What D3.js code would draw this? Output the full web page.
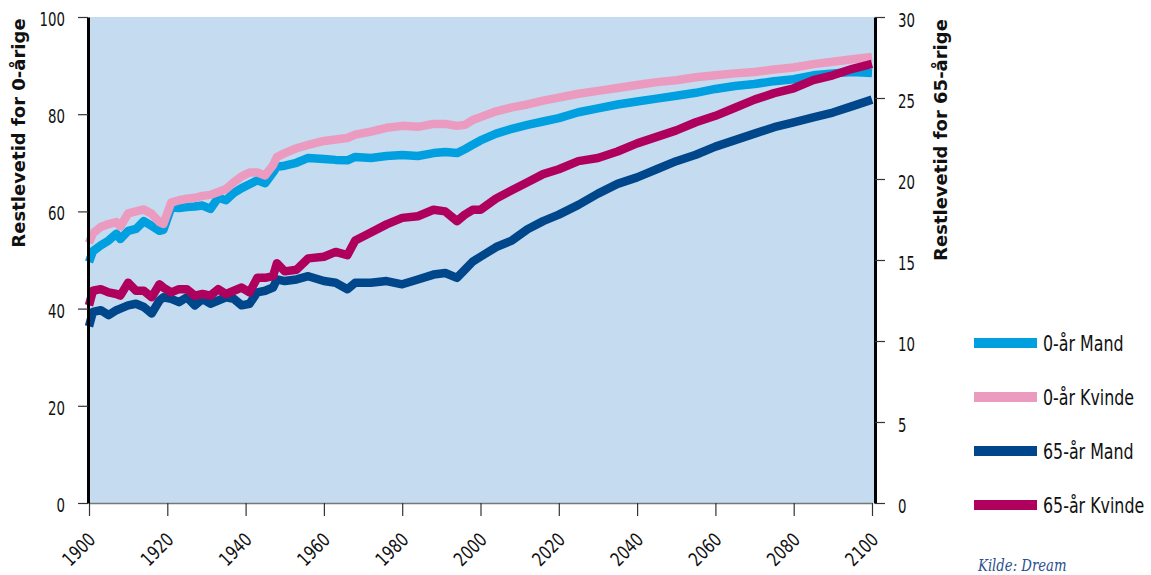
<html>
<script src="https://cdn.jsdelivr.net/npm/d3@7"></script>
<style>
body { margin: 0; background: #fff; }
.axis text { font-family: "DejaVu Sans Condensed", sans-serif; font-size: 19px; fill: #111; }
.axis .tick line { stroke: #333; stroke-width: 1.2; }
.title { font-family: "DejaVu Sans", sans-serif; font-weight: bold; font-size: 18px; fill: #111; }
.legend text { font-family: "DejaVu Sans Condensed", sans-serif; font-size: 21px; fill: #111; }
</style>
<body>
<svg width="1151" height="575" id="chart"></svg>
<script>
// years (historic years are dense, projection sparser)
var years = [1900,1901,1903,1905,1907,1908,1910,1912,1914,1916,1918,1919,
  1921,1923,1925,1927,1929,1931,1933,1935,1937,1939,1941,1943,1945,1947,
  1948,1950,1953,1956,1960,1963,1966,1968,
  1972,1976,1980,1984,1988,1991,1994,1996,1998,
  2000,2004,2008,2012,2016,2020,
  2025,2030,2035,2040,2045,2050,2055,2060,2065,2070,2075,2080,2085,2090,2095,2100];

// left axis series (0-aarige)
var mand0 = [49.6,51.8,53.0,54.0,55.4,54.3,56.0,56.4,58.0,57.0,56.0,56.2,
  60.8,60.7,60.9,61.0,61.2,60.5,62.8,62.3,63.8,64.8,65.6,66.4,65.8,68.0,
  69.2,69.4,70.0,71.0,70.8,70.6,70.5,71.2,
  71.0,71.4,71.6,71.4,72.0,72.2,72.0,72.8,73.7,
  74.6,76.0,77.0,77.8,78.5,79.2,
  80.4,81.2,82.0,82.6,83.2,83.8,84.4,85.2,85.8,86.2,86.8,87.2,88.0,88.4,88.7,88.5];
var kvinde0 = [53.5,55.5,56.8,57.4,57.8,56.9,59.6,60.0,60.4,59.5,57.8,57.4,
  61.8,62.3,62.6,62.8,63.2,63.4,64.0,64.6,66.0,67.2,68.0,68.0,67.4,69.5,
  71.2,72.0,73.0,73.7,74.5,74.8,75.1,75.8,
  76.4,77.2,77.6,77.4,78.0,78.0,77.6,77.8,78.8,
  79.4,80.6,81.4,82.0,82.8,83.4,
  84.2,84.8,85.4,86.0,86.6,87.0,87.6,88.0,88.4,88.7,89.2,89.6,90.3,90.8,91.3,91.8];

// right axis series (65-aarige)
var mand65 = [10.9,11.8,11.9,11.6,11.9,12.0,12.2,12.3,12.1,11.7,12.5,12.7,
  12.6,12.4,12.7,12.2,12.6,12.3,12.5,12.7,12.6,12.2,12.3,13.0,13.1,13.3,
  13.8,13.7,13.8,14.0,13.7,13.6,13.2,13.6,
  13.6,13.7,13.5,13.8,14.1,14.2,13.9,14.4,14.9,
  15.2,15.8,16.2,16.9,17.4,17.8,
  18.4,19.1,19.7,20.1,20.6,21.1,21.5,22.0,22.4,22.8,23.2,23.5,23.8,24.1,24.5,24.9];
var kvinde65 = [12.2,13.1,13.2,13.0,12.9,12.8,13.6,13.1,13.1,12.7,13.5,13.3,
  13.0,13.2,13.2,12.8,12.9,12.8,13.2,12.9,13.1,13.3,13.0,13.9,13.9,14.0,
  14.8,14.3,14.4,15.1,15.2,15.5,15.3,16.2,
  16.7,17.2,17.6,17.7,18.1,18.0,17.4,17.8,18.1,
  18.1,18.8,19.3,19.8,20.3,20.6,
  21.1,21.3,21.7,22.2,22.6,23.0,23.5,23.9,24.4,24.9,25.3,25.6,26.1,26.4,26.8,27.1];

var xTicks = [1900,1920,1940,1960,1980,2000,2020,2040,2060,2080,2100];
var leftTicks = [0,20,40,60,80,100];
var rightTicks = [0,5,10,15,20,25,30];
var seriesNames = ["0-år Mand","0-år Kvinde","65-år Mand","65-år Kvinde"];
var seriesColors = ["#009fe0","#eb9bbf","#00468b","#b0005e"];

var svg = d3.select("#chart");

var x = d3.scaleLinear().domain([1900, 2100]).range([89, 872]);
var yL = d3.scaleLinear().domain([0, 100]).range([503, 17]);
var yR = d3.scaleLinear().domain([0, 30]).range([503, 17]);

svg.append("rect")
  .attr("x", 89).attr("y", 17)
  .attr("width", 785).attr("height", 486)
  .attr("fill", "#c5dcf0");

var series = [
  {values: mand0, y: yL},
  {values: kvinde0, y: yL},
  {values: mand65, y: yR},
  {values: kvinde65, y: yR}
];

series.forEach(function(s, i) {
  var line = d3.line()
    .x(function(d, j) { return x(years[j]); })
    .y(function(d) { return s.y(d); });
  svg.append("path")
    .datum(s.values)
    .attr("d", line)
    .attr("fill", "none")
    .attr("stroke", seriesColors[i])
    .attr("stroke-width", 8.5)
    .attr("stroke-linejoin", "round");
});

// bottom axis
var gx = svg.append("g")
  .attr("class", "axis")
  .attr("transform", "translate(0,503)")
  .call(d3.axisBottom(x).tickValues(xTicks).tickFormat(d3.format("d")).tickSize(13).tickSizeOuter(0));
gx.select(".domain").attr("stroke", "#777").attr("stroke-width", 1.5);
gx.selectAll(".tick text")
  .attr("x", 0).attr("y", 0).attr("dy", 0)
  .attr("transform", "translate(7,38) rotate(-45) scale(0.85,1)")
  .style("text-anchor", "end");

// left axis
var gl = svg.append("g")
  .attr("class", "axis")
  .attr("transform", "translate(88,0)")
  .call(d3.axisLeft(yL).tickValues(leftTicks).tickSize(10).tickSizeOuter(0));
gl.select(".domain").attr("stroke", "#000").attr("stroke-width", 3);
gl.selectAll(".tick text")
  .attr("x", 0).attr("dy", "0.45em")
  .attr("transform", "translate(-23,0) scale(0.78,1)");

// right axis
var gr = svg.append("g")
  .attr("class", "axis")
  .attr("transform", "translate(875,0)")
  .call(d3.axisRight(yR).tickValues(rightTicks).tickSize(10).tickSizeOuter(0));
gr.select(".domain").attr("stroke", "#000").attr("stroke-width", 3);
gr.selectAll(".tick text")
  .attr("x", 0).attr("dy", "0.5em")
  .attr("transform", "translate(23,0) scale(0.78,1)");

// axis titles
svg.append("text").attr("class", "title")
  .attr("transform", "translate(25,133) rotate(-90)")
  .attr("text-anchor", "middle")
  .text("Restlevetid for 0-årige");
svg.append("text").attr("class", "title")
  .attr("transform", "translate(947,140) rotate(-90)")
  .attr("text-anchor", "middle")
  .text("Restlevetid for 65-årige");

// legend
var lg = svg.append("g").attr("class", "legend");
seriesNames.forEach(function(name, i) {
  var ly = 343 + i * 54;
  lg.append("line")
    .attr("x1", 974).attr("x2", 1037)
    .attr("y1", ly).attr("y2", ly)
    .attr("stroke", seriesColors[i]).attr("stroke-width", 10);
  lg.append("text")
    .attr("dy", "0.36em")
    .attr("transform", "translate(1043," + ly + ") scale(0.84,1)")
    .text(name);
});

svg.append("text")
  .attr("transform", "translate(978,571) scale(0.92,1)")
  .style("font-family", "'DejaVu Serif Condensed', 'Liberation Serif', serif")
  .style("font-style", "italic")
  .style("font-size", "16px")
  .attr("fill", "#2b4f8f")
  .text("Kilde: Dream");
</script>
</body>
</html>
